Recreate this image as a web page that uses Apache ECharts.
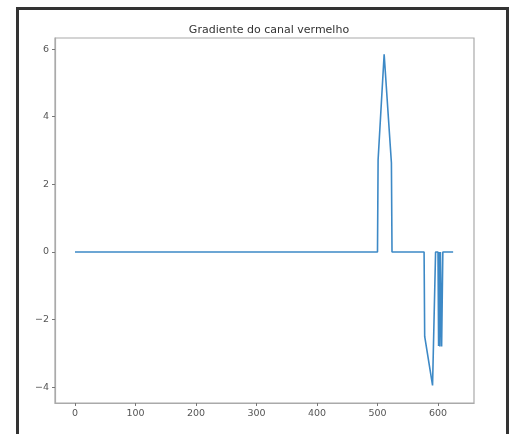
<!DOCTYPE html>
<html>
<head>
<meta charset="utf-8">
<script src="https://cdn.jsdelivr.net/npm/echarts@6/dist/echarts.min.js"></script>
<style>html,body{margin:0;padding:0;background:#fff;}#c{width:513px;height:434px;}</style>
</head>
<body>
<div id="c"></div>
<script>
// Breakpoints of the gradient line (straight segments between them)
const xs = [0, 500, 501, 511, 523, 524, 577, 578, 591, 596, 600, 601, 602, 603, 604, 606, 607, 608, 625];
const ys = [0, 0, 2.72, 5.85, 2.64, 0, 0, -2.5, -3.95, 0, 0, -2.78, 0, -2.8, 0, -2.8, -2.78, 0, 0];
const xTicks = [0, 100, 200, 300, 400, 500, 600];
const yTicks = [-4, -2, 0, 2, 4, 6];
const titleText = 'Gradiente do canal vermelho';

const chart = echarts.init(document.getElementById('c'), null, {renderer: 'canvas'});
const pts = xs.map((x, i) => [x, ys[i]]);
const fmt = v => String(v).replace('-', '\u2212');
const labelStyle = {color: '#555', fontSize: 9.5, fontFamily: 'DejaVu Sans'};
chart.setOption({
  animation: false,
  backgroundColor: '#fff',
  title: {
    text: titleText, left: 264, top: 20, textAlign: 'center',
    textStyle: {fontFamily: 'DejaVu Sans', fontSize: 11, fontWeight: 'normal', color: '#333'}
  },
  graphic: [{
    type: 'rect', left: 15, top: 6, shape: {width: 490, height: 440},
    style: {fill: 'none', stroke: '#333', lineWidth: 3}, silent: true
  }],
  grid: {left: 55, top: 38, right: 39, bottom: 31, show: true, borderColor: '#aaa', borderWidth: 1.2, containLabel: false},
  xAxis: {
    type: 'value', min: -33, max: 659.5,
    splitLine: {show: false},
    axisLine: {show: true, onZero: false, lineStyle: {color: '#aaa', width: 1.2}},
    axisTick: {show: true, length: 3, customValues: xTicks, lineStyle: {color: '#777'}},
    axisLabel: {customValues: xTicks, formatter: fmt, margin: 6, ...labelStyle}
  },
  yAxis: {
    type: 'value', min: -4.47, max: 6.33,
    splitLine: {show: false},
    axisLine: {show: true, onZero: false, lineStyle: {color: '#aaa', width: 1.2}},
    axisTick: {show: true, length: 3, customValues: yTicks, lineStyle: {color: '#777'}},
    axisLabel: {customValues: yTicks, formatter: fmt, margin: 6, ...labelStyle}
  },
  series: [{
    type: 'line', data: pts, showSymbol: false, symbol: 'none',
    lineStyle: {color: '#3d89c6', width: 1.6}
  }]
});
</script>
</body>
</html>
